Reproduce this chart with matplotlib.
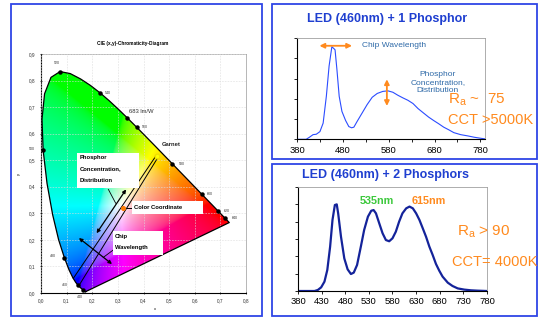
import numpy as np
import matplotlib.pyplot as plt
from matplotlib.patches import Polygon, Rectangle

plt.rcParams['font.family'] = ['Liberation Sans', 'DejaVu Sans']

# CIE 1931 spectral locus, 5 nm steps
locus_nm = [380, 385, 390, 395, 400, 405, 410, 415, 420, 425, 430, 435, 440, 445,
            450, 455, 460, 465, 470, 475, 480, 485, 490, 495, 500, 505, 510, 515,
            520, 525, 530, 535, 540, 545, 550, 555, 560, 565, 570, 575, 580, 585,
            590, 595, 600, 605, 610, 615, 620, 625, 630, 635, 640, 645, 650, 660,
            680, 700]
locus_x = [0.1741, 0.1740, 0.1738, 0.1736, 0.1733, 0.1730, 0.1726, 0.1721, 0.1714,
           0.1703, 0.1689, 0.1669, 0.1644, 0.1611, 0.1566, 0.1510, 0.1440, 0.1355,
           0.1241, 0.1096, 0.0913, 0.0687, 0.0454, 0.0235, 0.0082, 0.0039, 0.0139,
           0.0389, 0.0743, 0.1142, 0.1547, 0.1929, 0.2296, 0.2658, 0.3016, 0.3373,
           0.3731, 0.4087, 0.4441, 0.4788, 0.5125, 0.5448, 0.5752, 0.6029, 0.6270,
           0.6482, 0.6658, 0.6801, 0.6915, 0.7006, 0.7079, 0.7140, 0.7190, 0.7230,
           0.7260, 0.7300, 0.7347, 0.7347]
locus_y = [0.0050, 0.0050, 0.0049, 0.0049, 0.0048, 0.0048, 0.0048, 0.0048, 0.0051,
           0.0058, 0.0069, 0.0086, 0.0109, 0.0138, 0.0177, 0.0227, 0.0297, 0.0399,
           0.0578, 0.0868, 0.1327, 0.2007, 0.2950, 0.4127, 0.5384, 0.6548, 0.7502,
           0.8120, 0.8338, 0.8262, 0.8059, 0.7816, 0.7543, 0.7243, 0.6923, 0.6589,
           0.6245, 0.5896, 0.5547, 0.5202, 0.4866, 0.4544, 0.4242, 0.3965, 0.3725,
           0.3514, 0.3340, 0.3197, 0.3083, 0.2993, 0.2920, 0.2859, 0.2809, 0.2770,
           0.2740, 0.2700, 0.2653, 0.2653]

mark_nm = [520, 540, 560, 580, 600, 620, 640, 500, 480, 460, 440]
mark_off = [(-2, 6), (6, 0), (6, 0), (7, 0), (6, 0), (6, 0), (7, 0),
            (-8, 1), (-8, 1), (-9, 0), (-2, -5)]

garnet_pt = (0.453, 0.516)
color_pt = (0.32, 0.32)

# spectrum: LED 460 nm + 1 phosphor
wl1 = [380, 400, 407, 415, 422, 430, 437, 444, 450, 456, 460, 463, 467, 472, 478,
       486, 493, 499, 504, 511, 522, 533, 544, 555, 567, 578, 589, 600, 611, 622,
       633, 644, 656, 667, 678, 689, 700, 711, 722, 737, 752, 767, 781, 790]
spec1 = [0, 0, 0.1, 0.23, 0.25, 0.38, 0.8, 2.13, 3.63, 4.58, 4.5, 4.43, 3.47, 2.13,
         1.38, 0.93, 0.63, 0.57, 0.6, 0.88, 1.3, 1.72, 2.08, 2.27, 2.37, 2.4, 2.33,
         2.18, 2.05, 1.93, 1.77, 1.52, 1.3, 1.1, 0.93, 0.77, 0.6, 0.47, 0.33, 0.23,
         0.17, 0.1, 0.05, 0.02]

# spectrum: LED 460 nm + 2 phosphors
wl2 = [380, 415, 422, 429, 436, 442, 448, 453, 458, 462, 465, 471, 478, 485, 492,
       498, 505, 513, 520, 528, 535, 540, 545, 552, 559, 566, 573, 580, 587, 594,
       601, 609, 616, 623, 630, 637, 644, 651, 658, 665, 672, 679, 686, 697, 707,
       718, 732, 746, 760, 780]
spec2 = [0, 0, 0.06, 0.21, 0.54, 1.21, 2.56, 4.1, 4.96, 5.0, 4.48, 3.13, 1.88, 1.25,
         0.98, 1.06, 1.5, 2.56, 3.52, 4.29, 4.63, 4.67, 4.48, 3.9, 3.33, 2.94, 2.87,
         3.04, 3.42, 4.0, 4.48, 4.77, 4.87, 4.77, 4.48, 4.1, 3.62, 3.13, 2.56, 2.08,
         1.56, 1.17, 0.83, 0.48, 0.29, 0.15, 0.08, 0.04, 0.02, 0.0]

W, H = 542, 320
blue = '#2f45e6'
orange = '#ff8a1e'


def px_box(x0, y0, x1, y1):
    return [x0 / W, 1 - y1 / H, (x1 - x0) / W, (y1 - y0) / H]


fig = plt.figure(figsize=(W / 100, H / 100), dpi=100)

# panel frames
for x0, y0, x1, y1 in [(11, 4, 261.5, 316), (272, 4, 537, 159), (272, 164, 537, 316)]:
    b = px_box(x0, y0, x1, y1)
    fig.add_artist(Rectangle((b[0], b[1]), b[2], b[3], transform=fig.transFigure,
                             fill=False, edgecolor=blue, lw=1.3))

# ---------- CIE diagram ----------
ax = fig.add_axes(px_box(41, 54, 246, 293))
ax.set_xlim(0, 0.8)
ax.set_ylim(0, 0.9)

gx = np.linspace(0, 0.8, 400)
gy = np.linspace(0.0005, 0.9, 450)
cx, cy = np.meshgrid(gx, gy)
Xc = cx / cy
Zc = (1 - cx - cy) / cy
M = np.array([[3.2406, -1.5372, -0.4986],
              [-0.9689, 1.8758, 0.0415],
              [0.0557, -0.2040, 1.0570]])
xyz = np.stack([Xc, np.ones_like(Xc), Zc], axis=-1)
rgb = xyz @ M.T
rgb = np.clip(rgb, 0, None)
rgb = rgb / np.maximum(rgb.max(axis=-1, keepdims=True), 1e-9)
rgb = np.where(rgb <= 0.0031308, 12.92 * rgb, 1.055 * rgb ** (1 / 2.4) - 0.055)
rgb = np.clip(rgb, 0, 1)
im = ax.imshow(rgb, origin='lower', extent=(0, 0.8, 0, 0.9), aspect='auto',
               interpolation='bilinear', zorder=1)
poly = Polygon(np.column_stack([locus_x, locus_y]), closed=True, transform=ax.transData)
im.set_clip_path(poly)
ax.plot(locus_x + [locus_x[0]], locus_y + [locus_y[0]], color='k', lw=0.9, zorder=3)

ax.grid(True, ls=(0, (3, 2)), color='#dcdcdc', lw=0.4)
ax.set_axisbelow(False)

ax.set_xticks(np.arange(0, 0.81, 0.1))
ax.set_yticks(np.arange(0, 0.91, 0.1))
ax.set_xticklabels([f'{v:.1f}'.replace('.', ',') for v in np.arange(0, 0.81, 0.1)])
ax.set_yticklabels([f'{v:.1f}'.replace('.', ',') for v in np.arange(0, 0.91, 0.1)])
ax.tick_params(labelsize=3.4, length=2, width=0.5, direction='inout', pad=3,
               labelcolor='#333333')
for s in ['left', 'bottom']:
    ax.spines[s].set_color('k')
    ax.spines[s].set_linewidth(0.8)
for s in ['top', 'right']:
    ax.spines[s].set_color('#9a9a9a')
    ax.spines[s].set_linewidth(0.5)

fig.text(133 / W, 1 - 43 / H, 'CIE (x,y)-Chromaticity-Diagram', ha='center', va='center',
         fontsize=3.4, fontweight='bold')
fig.text(155 / W, 1 - 309 / H, 'x', ha='center', va='center', fontsize=3)
fig.text(19 / W, 1 - 174 / H, 'y', ha='center', va='center', fontsize=3, rotation=90)

for nm, off in zip(mark_nm, mark_off):
    i = locus_nm.index(nm)
    ax.plot(locus_x[i], locus_y[i], 'o', color='k', ms=2.2, zorder=4)
    ax.annotate(str(nm), (locus_x[i], locus_y[i]), xytext=off, textcoords='offset points',
                ha='center', va='center', fontsize=2.6, color='#333333', zorder=6)

i555 = locus_nm.index(555)
ax.plot(locus_x[i555], locus_y[i555], 'o', color='k', ms=2.2, zorder=4)
ax.annotate('683 lm/W', (locus_x[i555], locus_y[i555]), xytext=(1, 4.5),
            textcoords='offset points', ha='left', va='center', fontsize=4.2,
            color='#333333', zorder=6)

ax.text(0.471, 0.560, 'Garnet', fontsize=4.2, fontweight='bold', color='#222222',
        va='center', ha='left', zorder=6)

# lines from garnet point towards blue corner
ax.plot([0.447, 0.126], [0.514, 0.055], color='k', lw=0.7, zorder=5)
ax.plot([0.456, 0.150], [0.510, 0.031], color='k', lw=0.7, zorder=5)

arrow_kw = dict(arrowstyle='<|-|>', color='k', lw=0.9, mutation_scale=5,
                shrinkA=0, shrinkB=0)
ax.annotate('', xy=(0.217, 0.225), xytext=(0.332, 0.390), arrowprops=arrow_kw, zorder=5)
ax.annotate('', xy=(0.148, 0.207), xytext=(0.277, 0.109), arrowprops=arrow_kw, zorder=5)

# label boxes
ax.add_patch(Rectangle((0.1405, 0.395), 0.242, 0.132, facecolor='white',
                       edgecolor='none', zorder=6))
for txt, ty in zip(['Phosphor', 'Concentration,', 'Distribution'], [0.511, 0.467, 0.423]):
    ax.text(0.152, ty, txt, fontsize=4.2, fontweight='bold', va='center', ha='left', zorder=7)
ax.plot([0.263, 0.2915], [0.390, 0.338], color='k', lw=0.6, zorder=5)

ax.add_patch(Rectangle((0.355, 0.297), 0.277, 0.049, facecolor='white',
                       edgecolor='none', zorder=6))
ax.text(0.363, 0.322, 'Color Coordinate', fontsize=4.2, fontweight='bold', va='center',
        ha='left', zorder=7)
ax.plot([0.335, 0.357], [0.321, 0.321], color='k', lw=0.7, zorder=5)

ax.add_patch(Rectangle((0.281, 0.143), 0.195, 0.090, facecolor='white',
                       edgecolor='none', zorder=6))
ax.text(0.289, 0.212, 'Chip', fontsize=4.2, fontweight='bold', va='center', ha='left', zorder=7)
ax.text(0.289, 0.171, 'Wavelength', fontsize=4.2, fontweight='bold', va='center',
        ha='left', zorder=7)
ax.plot([0.243, 0.282], [0.134, 0.162], color='k', lw=0.6, zorder=5)

ax.plot(*color_pt, 'o', color='#ff7a00', ms=2.6, zorder=6)
ax.plot(*garnet_pt, 'o', color='#ffff00', mec='#f0e000', ms=3.4, zorder=6)


def style_spec(a):
    for s in ['left', 'bottom']:
        a.spines[s].set_color('k')
        a.spines[s].set_linewidth(0.8)
    for s in ['top', 'right']:
        a.spines[s].set_color('#a0a0a0')
        a.spines[s].set_linewidth(0.6)
    a.tick_params(which='both', direction='out', length=2.5, width=0.6, labelsize=6.8,
                  pad=2)
    a.set_yticklabels([])


# ---------- 1 phosphor ----------
ax1 = fig.add_axes(px_box(297, 38.3, 485, 139.3))
ax1.plot(wl1, spec1, color='#2b4cff', lw=0.8)
ax1.set_xlim(380, 790)
ax1.set_ylim(0, 5)
ax1.set_xticks(range(380, 781, 100))
ax1.set_xticks(range(430, 781, 100), minor=True)
ax1.set_yticks(range(0, 6))
style_spec(ax1)

ax1.annotate('', xy=(429, 4.63), xytext=(500, 4.63),
             arrowprops=dict(arrowstyle='<|-|>', color=orange, lw=1.3, mutation_scale=7,
                             shrinkA=0, shrinkB=0))
ax1.annotate('', xy=(576, 2.97), xytext=(576, 1.65),
             arrowprops=dict(arrowstyle='<|-|>', color=orange, lw=1.3, mutation_scale=7,
                             shrinkA=0, shrinkB=0))
ax1.text(591, 4.63, 'Chip Wavelength', fontsize=6, color='#2f6aa8', ha='center', va='center')
ax1.text(687, 2.8, 'Phosphor\nConcentration,\nDistribution', fontsize=6, color='#2f6aa8',
         ha='center', va='center', linespacing=1.15)

fig.text(387 / W, 1 - 19 / H, 'LED (460nm) + 1 Phosphor', ha='center', va='center',
         fontsize=9, fontweight='bold', color='#1f3fd0')
fig.text(448 / W, 1 - 103.3 / H, r'R$_\mathregular{a}$ ~  75', ha='left', va='baseline',
         fontsize=11, color=orange)
fig.text(448 / W, 1 - 124 / H, 'CCT >5000K', ha='left', va='baseline',
         fontsize=10.5, color=orange)

# ---------- 2 phosphors ----------
ax2 = fig.add_axes(px_box(298, 187, 487, 291))
ax2.plot(wl2, spec2, color='#14239a', lw=1.6)
ax2.set_xlim(380, 780)
ax2.set_ylim(0, 6)
ax2.set_xticks(range(380, 781, 50))
ax2.set_yticks(range(0, 7))
style_spec(ax2)

ax2.text(546, 5.21, '535nm', fontsize=7.8, fontweight='bold', color='#3cc83c',
         ha='center', va='center')
ax2.text(656, 5.21, '615nm', fontsize=7.8, fontweight='bold', color=orange,
         ha='center', va='center')

fig.text(385.6 / W, 1 - 175 / H, 'LED (460nm) + 2 Phosphors', ha='center', va='center',
         fontsize=9, fontweight='bold', color='#1f3fd0')
fig.text(457 / W, 1 - 235 / H, r'R$_\mathregular{a}$ > 90', ha='left', va='baseline',
         fontsize=11, color=orange)
fig.text(452 / W, 1 - 266 / H, 'CCT= 4000K', ha='left', va='baseline',
         fontsize=10.5, color=orange)

fig.savefig('out.png', dpi=100)
